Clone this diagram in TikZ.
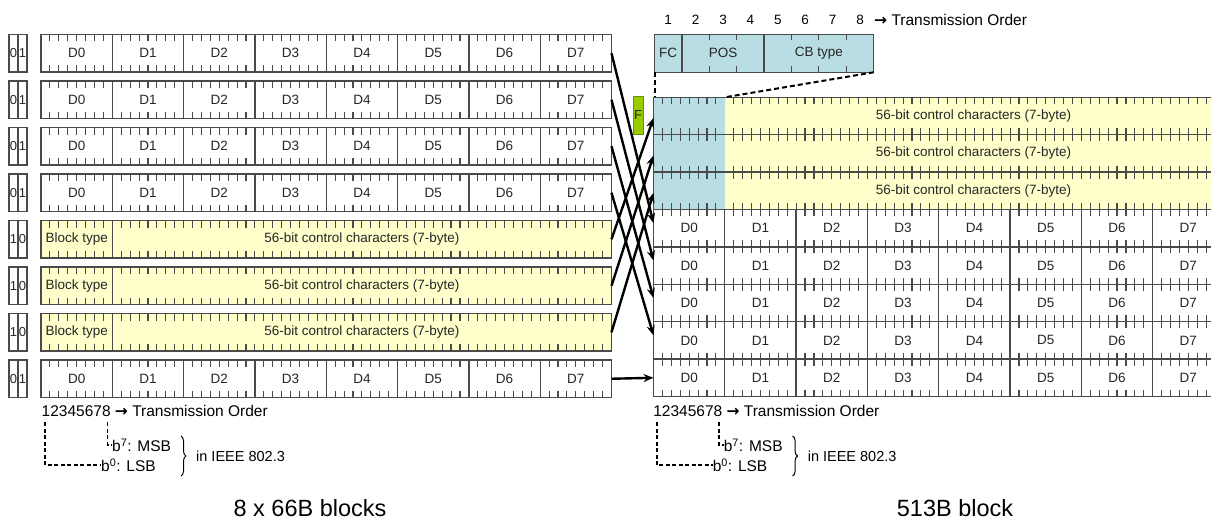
\documentclass[tikz,border=0pt]{standalone}
\usepackage{fontspec}
\setmainfont{Liberation Sans}
\newfontfamily\arrfont{DejaVu Sans}
\usetikzlibrary{arrows.meta,decorations.pathreplacing}
\definecolor{cyanfill}{HTML}{B8DEE3}
\definecolor{yelfill}{HTML}{FFFFCC}
\definecolor{grnfill}{HTML}{99CC00}
\definecolor{grnline}{HTML}{6B8E00}
\definecolor{linegray}{HTML}{4A4A4A}
\definecolor{txtgray}{HTML}{262626}
\begin{document}
\begin{tikzpicture}[x=1pt,y=-1pt,
  boxline/.style={draw=linegray, line width=1.3pt},
  tick/.style={draw=linegray, line width=1.1pt},
  rowbox/.style={boxline, anchor=north west, inner sep=0pt, outer sep=0pt, minimum width=570.5pt, minimum height=37.5pt},
  rrow/.style={boxline, anchor=north west, inner sep=0pt, outer sep=0pt, minimum width=570.5pt, minimum height=37.4pt},
  bitbox/.style={boxline, anchor=north west, inner sep=0pt, outer sep=0pt, minimum width=9pt, minimum height=37.5pt, text=txtgray, font=\fontsize{13}{15}\selectfont},
  txt/.style={inner sep=0pt, text=txtgray, font=\fontsize{13.5}{16}\selectfont},
  legtxt/.style={inner sep=0pt, text=black, font=\fontsize{15.5}{18}\selectfont},
  captxt/.style={inner sep=0pt, text=black, font=\fontsize{23.5}{27}\selectfont},
  mv/.style={line width=2.4pt, black, -{Stealth[length=10pt,width=8pt]}},
  dsh/.style={line width=2pt, black, dash pattern=on 5pt off 3pt},
  ldsh/.style={line width=1.8pt, black, dash pattern=on 4pt off 2.5pt}
]
\useasboundingbox (0,0) rectangle (1211,519);

% ---------------- left: 8 x 66B blocks ----------------
\foreach \i in {1,2,3,4,8}{
  \pgfmathsetmacro\tp{34.5+46.5*(\i-1)}
  \pgfmathsetmacro\cy{\tp+18.75}
  \pgfmathsetmacro\bt{\tp+37.5}
  \node[rowbox, fill=white] (L\i) at (41,\tp) {};
  \node[bitbox] (L\i p) at (9,\tp) {0};
  \node[bitbox] (L\i q) at (18,\tp) {1};
  \foreach \k in {0,...,7}{
    \pgfmathsetmacro\fx{41+71.3125*\k}
    \ifnum\k>0 \draw[boxline] (\fx,\tp) -- (\fx,\bt); \fi
    \foreach \j in {1,...,7}{
      \pgfmathsetmacro\tx{\fx+8.914*\j}
      \draw[tick] (\tx,\tp) -- ++(0,7) (\tx,\bt) -- ++(0,-7);
    }
    \node[txt] (L\i d\k) at (\fx+35.66,\cy) {D\k};
  }
}
\foreach \i in {5,6,7}{
  \pgfmathsetmacro\tp{34.5+46.5*(\i-1)}
  \pgfmathsetmacro\cy{\tp+18.75}
  \pgfmathsetmacro\bt{\tp+37.5}
  \node[rowbox, fill=yelfill] (L\i) at (41,\tp) {};
  \node[bitbox] (L\i p) at (9,\tp) {1};
  \node[bitbox] (L\i q) at (18,\tp) {0};
  \draw[boxline] (112.3125,\tp) -- (112.3125,\bt);
  \foreach \j in {1,...,7}{
    \pgfmathsetmacro\tx{41+8.914*\j}
    \draw[tick] (\tx,\tp) -- ++(0,7) (\tx,\bt) -- ++(0,-7);
  }
  \foreach \j in {9,...,63}{
    \pgfmathsetmacro\tx{41+8.914*\j}
    \draw[tick] (\tx,\tp) -- ++(0,7) (\tx,\bt) -- ++(0,-7);
  }
  \node[txt] (L\i bt) at (76.66,\cy) {Block type};
  \node[txt] (L\i cc) at (361.9,\cy) {56-bit control characters (7-byte)};
}

% ---------------- right: 513B block ----------------
\foreach \r in {1,2,3}{
  \pgfmathsetmacro\tp{97.3+37.4*(\r-1)}
  \pgfmathsetmacro\cy{\tp+18.7}
  \node[rrow, fill=yelfill, path picture={\fill[cyanfill] (path picture bounding box.north west) rectangle ++(71.3125,37.4);}] (R\r) at (653.5,\tp) {};
  \node[txt] (R\r cc) at (973.5,\cy) {56-bit control characters (7-byte)};
}
\foreach \r in {4,...,8}{
  \pgfmathsetmacro\tp{97.3+37.4*(\r-1)}
  \pgfmathsetmacro\cy{\tp+18.7}
  \node[rrow, fill=white] (R\r) at (653.5,\tp) {};
  \foreach \k in {0,...,7}{
    \node[txt] (R\r d\k) at (653.5+71.3125*\k+35.66,\cy) {D\k};
  }
}
\foreach \k in {1,...,7}{
  \draw[boxline] ([xshift=\k*71.3125pt]R4.north west) -- ([xshift=\k*71.3125pt]R8.south west);
}
\foreach \m in {0,...,8}{
  \pgfmathsetmacro\ly{97.3+37.4*\m}
  \foreach \k in {0,...,7}{
    \foreach \j in {1,...,7}{
      \pgfmathsetmacro\tx{653.5+71.3125*\k+8.914*\j}
      \ifnum\m=0
        \draw[tick] (\tx,\ly) -- ++(0,7);
      \else\ifnum\m=8
        \draw[tick] (\tx,\ly) -- ++(0,-7);
      \else
        \draw[tick] (\tx,\ly-6.5) -- (\tx,\ly+6.5);
      \fi\fi
    }
  }
}
\foreach \m in {0,1,2,3}{
  \pgfmathsetmacro\ly{97.3+37.4*\m}
  \foreach \k in {2,...,7}{
    \pgfmathsetmacro\tx{653.5+71.3125*\k}
    \ifnum\m=0
      \draw[tick] (\tx,\ly) -- ++(0,7);
    \else
      \draw[tick] (\tx,\ly-6.5) -- (\tx,\ly+6.5);
    \fi
  }
}

% header of the 513B block
\node[boxline, fill=cyanfill, anchor=north west, inner sep=0pt, outer sep=0pt, minimum width=219.2pt, minimum height=38pt] (H) at (654.5,34.3) {};
\draw[boxline] (681.9,34.3) -- (681.9,72.3) (764.1,34.3) -- (764.1,72.3);
\foreach \n in {2,3,5,6,7}{
  \pgfmathsetmacro\tx{654.5+27.4*\n}
  \draw[tick] (\tx,34.3) -- ++(0,6) (\tx,72.3) -- ++(0,-6);
}
\node[txt] (HFC) at (668.2,53.3) {FC};
\node[txt] (HPOS) at (723,53.3) {POS};
\node[txt] (HCB) at (818.9,53.3) {CB type};
\foreach \n in {1,...,8}{
  \node[legtxt, font=\fontsize{13.5}{16}\selectfont] (N\n) at (654.5+27.4*\n-13.7,20) {\n};
}
\node[legtxt, anchor=west] (HT) at (874,20) {{\arrfont\bfseries →} Transmission Order};
\draw[dsh] (H.south west) -- (H.south west |- R1.north);
\draw[dsh] (H.south east) -- ([xshift=71.3125pt]R1.north west);

% F marker
\node[draw=grnline, line width=1pt, fill=grnfill, inner sep=0pt, minimum width=10pt, minimum height=37pt, font=\fontsize{13}{15}\selectfont, text=txtgray] (F) at (638,115.5) {F};

% ---------------- connectors ----------------
\draw[mv] (L1.east) -- ([yshift=5pt]R4.west);
\draw[mv] (L2.east) -- ([yshift=5pt]R5.west);
\draw[mv] (L3.east) -- ([yshift=5pt]R6.west);
\draw[mv] (L4.east) -- ([yshift=5pt]R7.west);
\draw[mv] (L5.east) -- ([yshift=-2pt]R1.west);
\draw[mv] (L6.east) -- ([yshift=-2pt]R2.west);
\draw[mv] (L7.east) -- ([yshift=-2pt]R3.west);
\draw[mv] (L8.east) -- (R8.west);

% ---------------- legends ----------------
\foreach \ox/\nm in {0/a,611.6/b}{
  \node[legtxt, anchor=west] (T\nm) at (41.5+\ox,411) {12345678 {\arrfont\bfseries →} Transmission Order};
  \coordinate (P\nm1) at (45+\ox,422);
  \coordinate (P\nm2) at (101+\ox,465);
  \coordinate (P\nm3) at (107.5+\ox,422);
  \coordinate (P\nm4) at (112+\ox,445);
  \draw[ldsh] (P\nm1) |- (P\nm2);
  \draw[ldsh] (P\nm3) |- (P\nm4);
  \node[legtxt, anchor=west] (MSB\nm) at (P\nm4) {b\textsuperscript{7}: MSB};
  \node[legtxt, anchor=west] (LSB\nm) at (P\nm2) {b\textsuperscript{0}: LSB};
  \draw[line width=1pt, decorate, decoration={brace, amplitude=5pt}] (181+\ox,436) -- (181+\ox,476);
  \node[legtxt, anchor=west, font=\fontsize{14.5}{17}\selectfont] (IE\nm) at (196+\ox,456) {in IEEE 802.3};
}

\node[captxt] (C1) at (310,508) {8 x 66B blocks};
\node[captxt] (C2) at (955,508) {513B block};
\end{tikzpicture}
\end{document}
